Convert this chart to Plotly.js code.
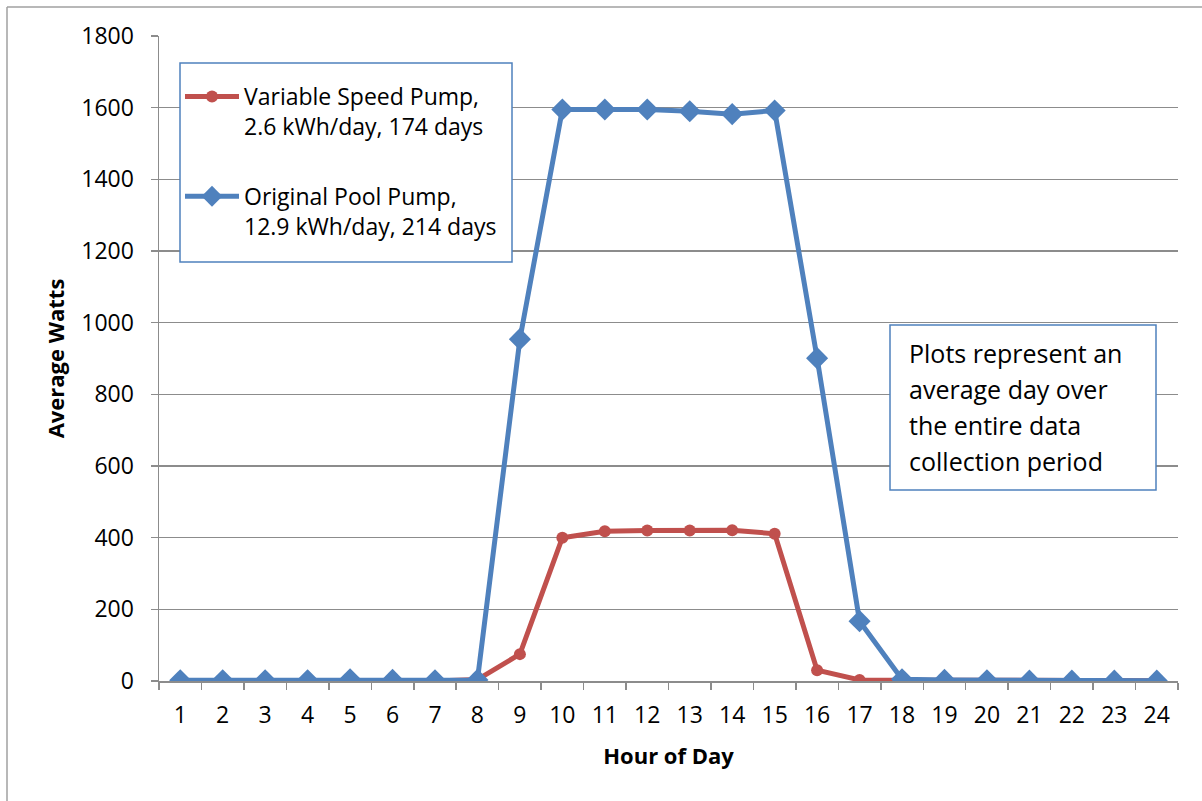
<!DOCTYPE html>
<html>
<head>
<meta charset="utf-8">
<script src="https://cdn.plot.ly/plotly-3.0.1.min.js"></script>
<style>
  html, body { margin: 0; padding: 0; background: #ffffff; }
  #chart { width: 1202px; height: 801px; }
</style>
</head>
<body>
<div id="chart"></div>
<script>
const hours = ["1","2","3","4","5","6","7","8","9","10","11","12","13","14","15","16","17","18","19","20","21","22","23","24"];
const variableSpeed = [0,0,0,0,0,0,0,4,75,400,418,420,420,421,411,30,3,3,4,3,2,1,1,1];
const originalPump = [2,2,2,2,5,3,2,3,954,1595,1595,1595,1590,1582,1592,901,167,5,3,2,1,1,1,1];
const seriesNames = [
  "Variable Speed Pump,<br>2.6 kWh/day, 174 days",
  "Original Pool Pump,<br>12.9 kWh/day, 214 days"
];
const noteLines = ["Plots represent an", "average day over", "the entire data", "collection period"];
const yTicks = [0,200,400,600,800,1000,1200,1400,1600,1800];

const W = 1202, H = 801;
const M = { l: 159, r: 24, t: 36, b: 120 };
const pw = W - M.l - M.r, ph = H - M.t - M.b;
const px = v => (v - M.l) / pw;
const py = v => (H - M.b - v) / ph;

const font = "'Open Sans', 'Noto Sans', 'Liberation Sans', sans-serif";
const red = "#C0504D", blue = "#4F81BD", grid = "#8C8C8C";

const traces = [
  {
    x: hours, y: variableSpeed, name: seriesNames[0], type: "scatter", mode: "lines+markers",
    legendgroup: "a",
    line: { color: red, width: 5 },
    marker: { symbol: "circle", size: 12, color: red }
  },
  {
    x: hours, y: originalPump, name: seriesNames[1], type: "scatter", mode: "lines+markers",
    legendgroup: "b",
    line: { color: blue, width: 5 },
    marker: { symbol: "diamond", size: 17, color: blue }
  }
];

const annotations = noteLines.map((t, i) => ({
  xref: "paper", yref: "paper", x: px(907), y: py(353 + 36 * i),
  xanchor: "left", yanchor: "middle", text: t, showarrow: false, align: "left",
  font: { family: font, size: 25, color: "#000000" }
}));

const layout = {
  width: W, height: H,
  margin: M,
  paper_bgcolor: "#ffffff", plot_bgcolor: "#ffffff",
  font: { family: font, size: 23, color: "#000000" },
  showlegend: true,
  legend: {
    x: px(180), y: py(75), xanchor: "left", yanchor: "top",
    borderwidth: 0, bgcolor: "rgba(0,0,0,0)",
    font: { family: font, size: 23, color: "#000000" },
    traceorder: "grouped", tracegroupgap: 37,
    itemwidth: 54, valign: "top"
  },
  xaxis: {
    type: "category", range: [-0.5, 23.5],
    showgrid: false, showline: true, linecolor: grid, linewidth: 1.5,
    ticks: "outside", tickson: "boundaries", ticklen: 7, tickcolor: grid, tickwidth: 1.5,
    ticklabelstandoff: 13,
    tickfont: { family: font, size: 23, color: "#000000" },
    title: { text: "<b>Hour of Day</b>", font: { family: font, size: 22, color: "#000000" }, standoff: 19 },
    zeroline: false, fixedrange: true
  },
  yaxis: {
    range: [0, 1800], tickvals: yTicks,
    showgrid: true, gridcolor: grid, gridwidth: 1.5,
    showline: true, linecolor: grid, linewidth: 1.5,
    ticks: "outside", ticklen: 7, tickcolor: grid, tickwidth: 1.5,
    ticklabelstandoff: 12,
    tickfont: { family: font, size: 23, color: "#000000" },
    title: { text: "<b>Average Watts</b>", font: { family: font, size: 22, color: "#000000" }, standoff: 10 },
    zeroline: false, fixedrange: true
  },
  annotations: annotations,
  shapes: [
    { type: "line", xref: "paper", yref: "paper", x0: px(7), x1: px(W + 5), y0: py(7), y1: py(7), line: { color: "#A0A0A0", width: 1.5 } },
    { type: "line", xref: "paper", yref: "paper", x0: px(7), x1: px(7), y0: py(7), y1: py(H + 5), line: { color: "#A0A0A0", width: 1.5 } },
    { type: "rect", xref: "paper", yref: "paper", layer: "above", x0: px(180), x1: px(512), y0: py(63), y1: py(262),
      fillcolor: "#ffffff", line: { color: blue, width: 1.5 } },
    { type: "rect", xref: "paper", yref: "paper", layer: "above", x0: px(890), x1: px(1156), y0: py(325), y1: py(490),
      fillcolor: "#ffffff", line: { color: blue, width: 1.5 } }
  ]
};

Plotly.newPlot("chart", traces, layout, { displayModeBar: false, staticPlot: true });
</script>
</body>
</html>
